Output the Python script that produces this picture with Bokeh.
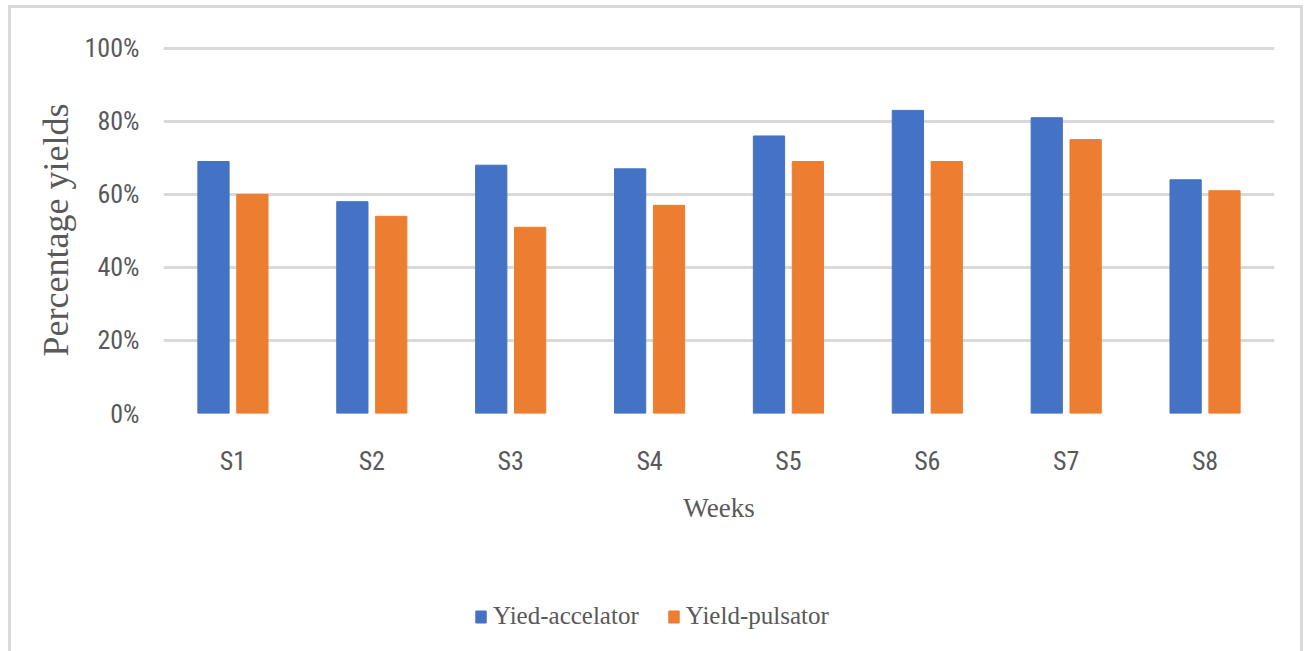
from bokeh.plotting import figure
from bokeh.layouts import column
from bokeh.models import (FactorRange, ColumnDataSource, Legend, LegendItem,
                          NumeralTickFormatter, FixedTicker)
from bokeh.transform import dodge
from bokeh.embed import file_html
from bokeh.resources import INLINE

weeks = ["S1", "S2", "S3", "S4", "S5", "S6", "S7", "S8"]
yield_accelator = [0.69, 0.58, 0.68, 0.67, 0.76, 0.83, 0.81, 0.64]
yield_pulsator = [0.60, 0.54, 0.51, 0.57, 0.69, 0.69, 0.75, 0.61]
y_ticks = [0.0, 0.2, 0.4, 0.6, 0.8, 1.0]
series_names = ["Yied-accelator", "Yield-pulsator"]

BLUE = "#4472c4"
ORANGE = "#ed7d31"
GRID = "#d9d9d9"
TEXT = "#595959"
SANS = "Liberation Sans Narrow, Roboto Condensed, Liberation Sans, sans-serif"
SERIF = "Liberation Serif, serif"

src = ColumnDataSource(dict(week=weeks, acc=yield_accelator, pul=yield_pulsator))

p = figure(width=1289, height=552, x_range=FactorRange(*weeks), y_range=(0, 1.005),
           output_backend="svg", toolbar_location=None,
           min_border_left=152, min_border_right=26, min_border_top=38, min_border_bottom=147)
p.outline_line_color = None
p.background_fill_color = "white"
p.border_fill_color = "white"

p.vbar(x=dodge("week", -0.14, range=p.x_range), top="acc", width=0.225,
       source=src, fill_color=BLUE, line_color=BLUE)
p.vbar(x=dodge("week", 0.14, range=p.x_range), top="pul", width=0.225,
       source=src, fill_color=ORANGE, line_color=ORANGE)

p.xgrid.grid_line_color = None
p.ygrid.grid_line_color = GRID
p.ygrid.grid_line_width = 3
p.ygrid.ticker = FixedTicker(ticks=y_ticks)

p.yaxis.ticker = FixedTicker(ticks=y_ticks)
p.yaxis.formatter = NumeralTickFormatter(format="0%")
for ax in (p.xaxis, p.yaxis):
    ax.axis_line_color = None
    ax.major_tick_line_color = None
    ax.minor_tick_line_color = None
    ax.major_label_text_font = SANS
    ax.major_label_text_font_size = "26px"
    ax.major_label_text_color = TEXT
    ax.axis_label_text_font = SERIF
    ax.axis_label_text_font_style = "normal"
    ax.axis_label_text_color = TEXT

p.xaxis.axis_label_text_font_size = "27px"
p.yaxis.axis_label_text_font_size = "36px"
p.yaxis.major_label_standoff = 18
p.yaxis.axis_label = "Percentage yields"
p.yaxis.axis_label_standoff = 6
p.xaxis.major_label_standoff = 26
p.xaxis.axis_label = "Weeks"
p.xaxis.axis_label_standoff = 14
p.x_range.range_padding = 0
p.x_range.group_padding = 0

# legend strip under the chart; its own copies of the series sit below the visible
# y window, so only the legend swatches show
leg = figure(width=1289, height=91, output_backend="svg", toolbar_location=None,
             min_border=0, x_range=FactorRange(*weeks), y_range=(2, 3),
             x_axis_location=None, y_axis_location=None)
leg.grid.visible = False
leg.outline_line_color = None
leg.border_fill_color = "white"
sw1 = leg.vbar(x="week", top="acc", width=0.2, source=src, fill_color=BLUE, line_color=BLUE)
sw2 = leg.vbar(x="week", top="pul", width=0.2, source=src, fill_color=ORANGE, line_color=ORANGE)
legend = Legend(items=[LegendItem(label=series_names[0], renderers=[sw1]),
                       LegendItem(label=series_names[1], renderers=[sw2])],
                orientation="horizontal", location=(311, 21),
                label_text_font=SERIF, label_text_font_size="25px",
                label_text_color=TEXT, glyph_width=13, glyph_height=15,
                spacing=28, label_standoff=6, background_fill_alpha=0,
                border_line_color=None)
leg.add_layout(legend)

layout = column(p, leg, spacing=0,
                styles={"border-left": "3px solid #d9d9d9", "border-top": "3px solid #d9d9d9",
                        "border-right": "3px solid #d9d9d9", "margin-left": "8px",
                        "margin-top": "5px"})

open("out.html", "w").write(file_html(layout, INLINE))
